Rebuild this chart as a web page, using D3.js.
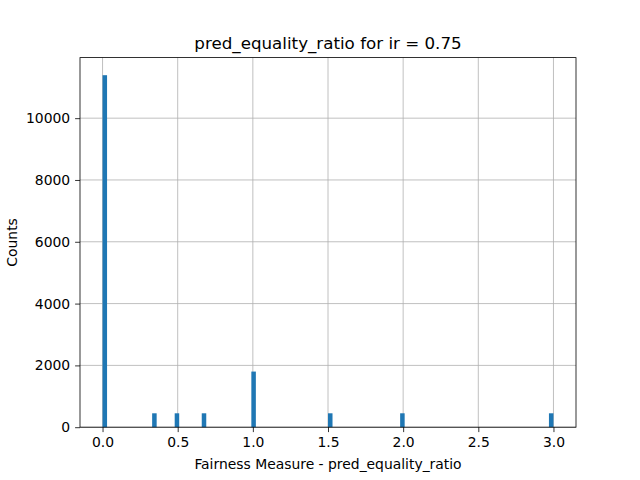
<!DOCTYPE html>
<html><head><meta charset="utf-8">
<script src="https://cdn.jsdelivr.net/npm/d3@7"></script>
<style>body{margin:0;background:#fff}text{font-family:"DejaVu Sans",sans-serif}</style>
</head><body><svg id="c" width="640" height="480"></svg>
<script>
const binStarts = [0.00, 0.33, 0.48, 0.66, 0.99, 1.50, 1.98, 2.97];
const counts = [11390, 450, 450, 450, 1800, 450, 450, 450];
const binWidth = 0.03;
const xTicks = [0, 0.5, 1, 1.5, 2, 2.5, 3];
const yTicks = [0, 2000, 4000, 6000, 8000, 10000];

const svg = d3.select("#c");
const L=80, R=576, T=57.6, B=427.2;
const x = d3.scaleLinear().domain([-0.15, 3.15]).range([L, R]);
const y = d3.scaleLinear().domain([0, 11390*1.05]).range([B, T]);

const g = svg.append("g");
g.selectAll(".vx").data(xTicks).join("line").attr("x1",d=>x(d)).attr("x2",d=>x(d)).attr("y1",T).attr("y2",B).attr("stroke","#b0b0b0").attr("stroke-width",0.8);
g.selectAll(".hy").data(yTicks).join("line").attr("y1",d=>y(d)).attr("y2",d=>y(d)).attr("x1",L).attr("x2",R).attr("stroke","#b0b0b0").attr("stroke-width",0.8);

svg.append("g").selectAll("rect").data(binStarts).join("rect")
  .attr("x",(d)=>x(d)).attr("width",(d)=>x(d+binWidth)-x(d))
  .attr("y",(d,i)=>y(counts[i])).attr("height",(d,i)=>B-y(counts[i]))
  .attr("fill","#1f77b4");

const xa = svg.append("g").attr("transform",`translate(0,${B})`)
  .call(d3.axisBottom(x).tickValues(xTicks).tickFormat(d3.format(".1f")).tickSizeOuter(0).tickSize(4.9).tickPadding(4.9));
const ya = svg.append("g").attr("transform",`translate(${L},0)`)
  .call(d3.axisLeft(y).tickValues(yTicks).tickFormat(d=>d).tickSizeOuter(0).tickSize(4.9).tickPadding(4.9));
[xa,ya].forEach(a=>{a.select(".domain").remove();a.selectAll("text").attr("font-size",13.9).attr("fill","#000").style("font-family","DejaVu Sans");a.selectAll("line").attr("stroke","#000").attr("stroke-width",0.8);});

svg.append("rect").attr("x",L).attr("y",T).attr("width",R-L).attr("height",B-T).attr("fill","none").attr("stroke","#000").attr("stroke-width",0.8);

svg.append("text").attr("x",(L+R)/2).attr("y",49).attr("text-anchor","middle").attr("font-size",16.7).text("pred_equality_ratio for ir = 0.75");
svg.append("text").attr("x",(L+R)/2).attr("y",469).attr("text-anchor","middle").attr("font-size",13.9).text("Fairness Measure - pred_equality_ratio");
svg.append("text").attr("transform",`translate(17,${(T+B)/2}) rotate(-90)`).attr("text-anchor","middle").attr("font-size",13.9).text("Counts");
</script></body></html>
